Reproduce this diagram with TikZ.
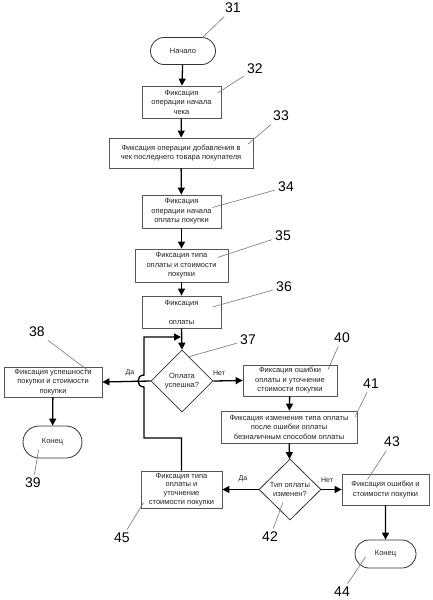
\documentclass[tikz,border=0pt]{standalone}
\usepackage{fontspec}
\setmainfont{Liberation Sans}
\usepackage{tikz}
\usetikzlibrary{arrows.meta,calc,shapes.geometric,shapes.misc}
\definecolor{boxgray}{HTML}{555555}
\definecolor{leadgray}{HTML}{777777}
\definecolor{inkgray}{HTML}{222222}

\begin{document}
\begin{tikzpicture}[x=1pt,y=-1pt,>={Triangle[length=7pt,width=7pt]},
  box/.style={draw=boxgray,line width=0.8pt,align=center,inner sep=1pt,
    text=inkgray,font=\fontsize{7.5}{9.5}\selectfont},
  term/.style={draw=black!80,line width=0.8pt,rounded rectangle,inner sep=1pt,
    text=inkgray,font=\fontsize{7.5}{9.5}\selectfont},
  cond/.style={draw=black!80,line width=0.8pt,diamond,aspect=1,inner sep=0pt,
    align=center,text=inkgray,font=\fontsize{7.5}{9.5}\selectfont},
  flow/.style={line width=1.3pt,->},
  lead/.style={leadgray,line width=0.6pt},
  num/.style={font=\fontsize{14}{14}\selectfont},
  edgetxt/.style={text=inkgray,font=\fontsize{7}{8}\selectfont}]
  \useasboundingbox[fill=white] (0,0) rectangle (432,600);
  % main column
  \node[term,minimum width=67pt,minimum height=27pt] (n31) at (183,51) {Начало};
  \node[box,minimum width=79pt,minimum height=32pt] (n32) at (181.5,102) {Фиксация\\операции начала\\чека};
  \node[box,minimum width=144pt,minimum height=30pt] (n33) at (181,153) {Фиксация операции добавления в\\чек последнего товара покупателя};
  \node[box,minimum width=79pt,minimum height=33pt] (n34) at (181.5,211.5) {Фиксация\\операции начала\\оплаты покупки};
  \node[box,minimum width=93pt,minimum height=33pt] (n35) at (181.5,265.5) {Фиксация типа\\оплаты и стоимости\\покупки};
  \node[box,minimum width=79pt,minimum height=32pt] (n36) at (181.5,312) {Фиксация\\\mbox{}\\оплаты};
  \node[cond,minimum width=62pt,minimum height=62pt] (n37) at (182,381) {Оплата\\успешна?};
  % left branch
  \node[box,minimum width=98pt,minimum height=30pt] (n38) at (53,382) {Фиксация успешности\\покупки и стоимости\\покупки};
  \node[term,minimum width=61pt,minimum height=32pt] (n39) at (52.5,442) {Конец};
  % right branch
  \node[box,minimum width=94pt,minimum height=31pt] (n40) at (290,380.5) {Фиксация ошибки\\оплаты и уточнение\\стоимости покупки};
  \node[box,minimum width=136pt,minimum height=32pt] (n41) at (289,427) {Фиксация изменения типа оплаты\\после ошибки оплаты\\безналичным способом оплаты};
  \node[cond,minimum width=62pt,minimum height=61pt] (n42) at (290,489.5) {Тип оплаты\\изменен?};
  \node[box,minimum width=87pt,minimum height=31pt] (n43) at (385.5,489.5) {Фиксация ошибки и\\стоимости покупки};
  \node[term,minimum width=63pt,minimum height=28pt] (n44) at (385.5,554) {Конец};
  \node[box,minimum width=81pt,minimum height=37pt,font=\fontsize{7.5}{8.8}\selectfont] (n45) at (181.5,489.5) {Фиксация типа\\оплаты и\\уточнение\\стоимости покупки};

  % connectors
  \draw[flow] (n31) -- (n32);
  \draw[flow] (n32) -- (n33);
  \draw[flow] (n33) -- (n34);
  \draw[flow] (n34) -- (n35);
  \draw[flow] (n35) -- (n36);
  \draw[flow] (n36.south) -- (n37.north);
  \draw[flow] (n37.west) -- (n38.east);
  \draw[flow] (n38) -- (n39);
  \draw[flow] (n37.east) -- (n40.west);
  \draw[flow] (n40) -- (n41);
  \draw[flow] (n41) -- (n42);
  \draw[flow] (n42.west) -- (n45.east);
  \draw[flow] (n42.east) -- (n43.west);
  \draw[flow] (n43) -- (n44);
  \coordinate (j37) at (181,337);
  \draw[flow] (n45.north) |- (144,438) -- (144,387)
    .. controls (136,387) and (136,375) .. (144,375) -- (144,337) -- (j37);
  \node[edgetxt] (yes37) at (130,373) {Да};
  \node[edgetxt] (no37) at (219,373) {Нет};
  \node[edgetxt] (yes42) at (243,479) {Да};
  \node[edgetxt] (no42) at (327,480) {Нет};

  % reference numbers
  \node[num] (l31) at (233,8) {31};
  \node[num] (l32) at (255,69) {32};
  \node[num] (l33) at (281,116) {33};
  \node[num] (l34) at (286,187) {34};
  \node[num] (l35) at (283,236) {35};
  \node[num] (l36) at (284,287) {36};
  \node[num] (l37) at (248,340) {37};
  \node[num] (l38) at (37,332) {38};
  \node[num] (l39) at (33,483) {39};
  \node[num] (l40) at (342,338) {40};
  \node[num] (l41) at (371,384) {41};
  \node[num] (l42) at (270,537) {42};
  \node[num] (l43) at (392,442) {43};
  \node[num] (l44) at (342,592) {44};
  \node[num] (l45) at (122,538) {45};
  \draw[lead] (l31) -- ($(n31.center)+(19,-13)$);
  \draw[lead] (l32) -- ($(n32.center)+(36,-9)$);
  \draw[lead] (l33) -- ($(n33.center)+(67,-9)$);
  \draw[lead] (l34) -- ($(n34.center)+(31,-4)$);
  \draw[lead] (l35) -- ($(n35.center)+(36,-8)$);
  \draw[lead] (l36) -- ($(n36.center)+(31,-5)$);
  \draw[lead] (l37) -- ($(n37.center)+(6,-24)$);
  \draw[lead] (l38) -- ($(n38.center)+(37,-10)$);
  \draw[lead] (l39) -- ($(n39.center)+(-14,8)$);
  \draw[lead] (l40) -- ($(n40.center)+(38,-11)$);
  \draw[lead] (l41) -- ($(n41.center)+(66,-10)$);
  \draw[lead] (l42) -- ($(n42.center)+(-7,13)$);
  \draw[lead] (l43) -- ($(n43.center)+(-18,-10)$);
  \draw[lead] (l44) -- ($(n44.center)+(-20,3)$);
  \draw[lead] (l45) -- ($(n45.center)+(-38,13)$);
\end{tikzpicture}
\end{document}
